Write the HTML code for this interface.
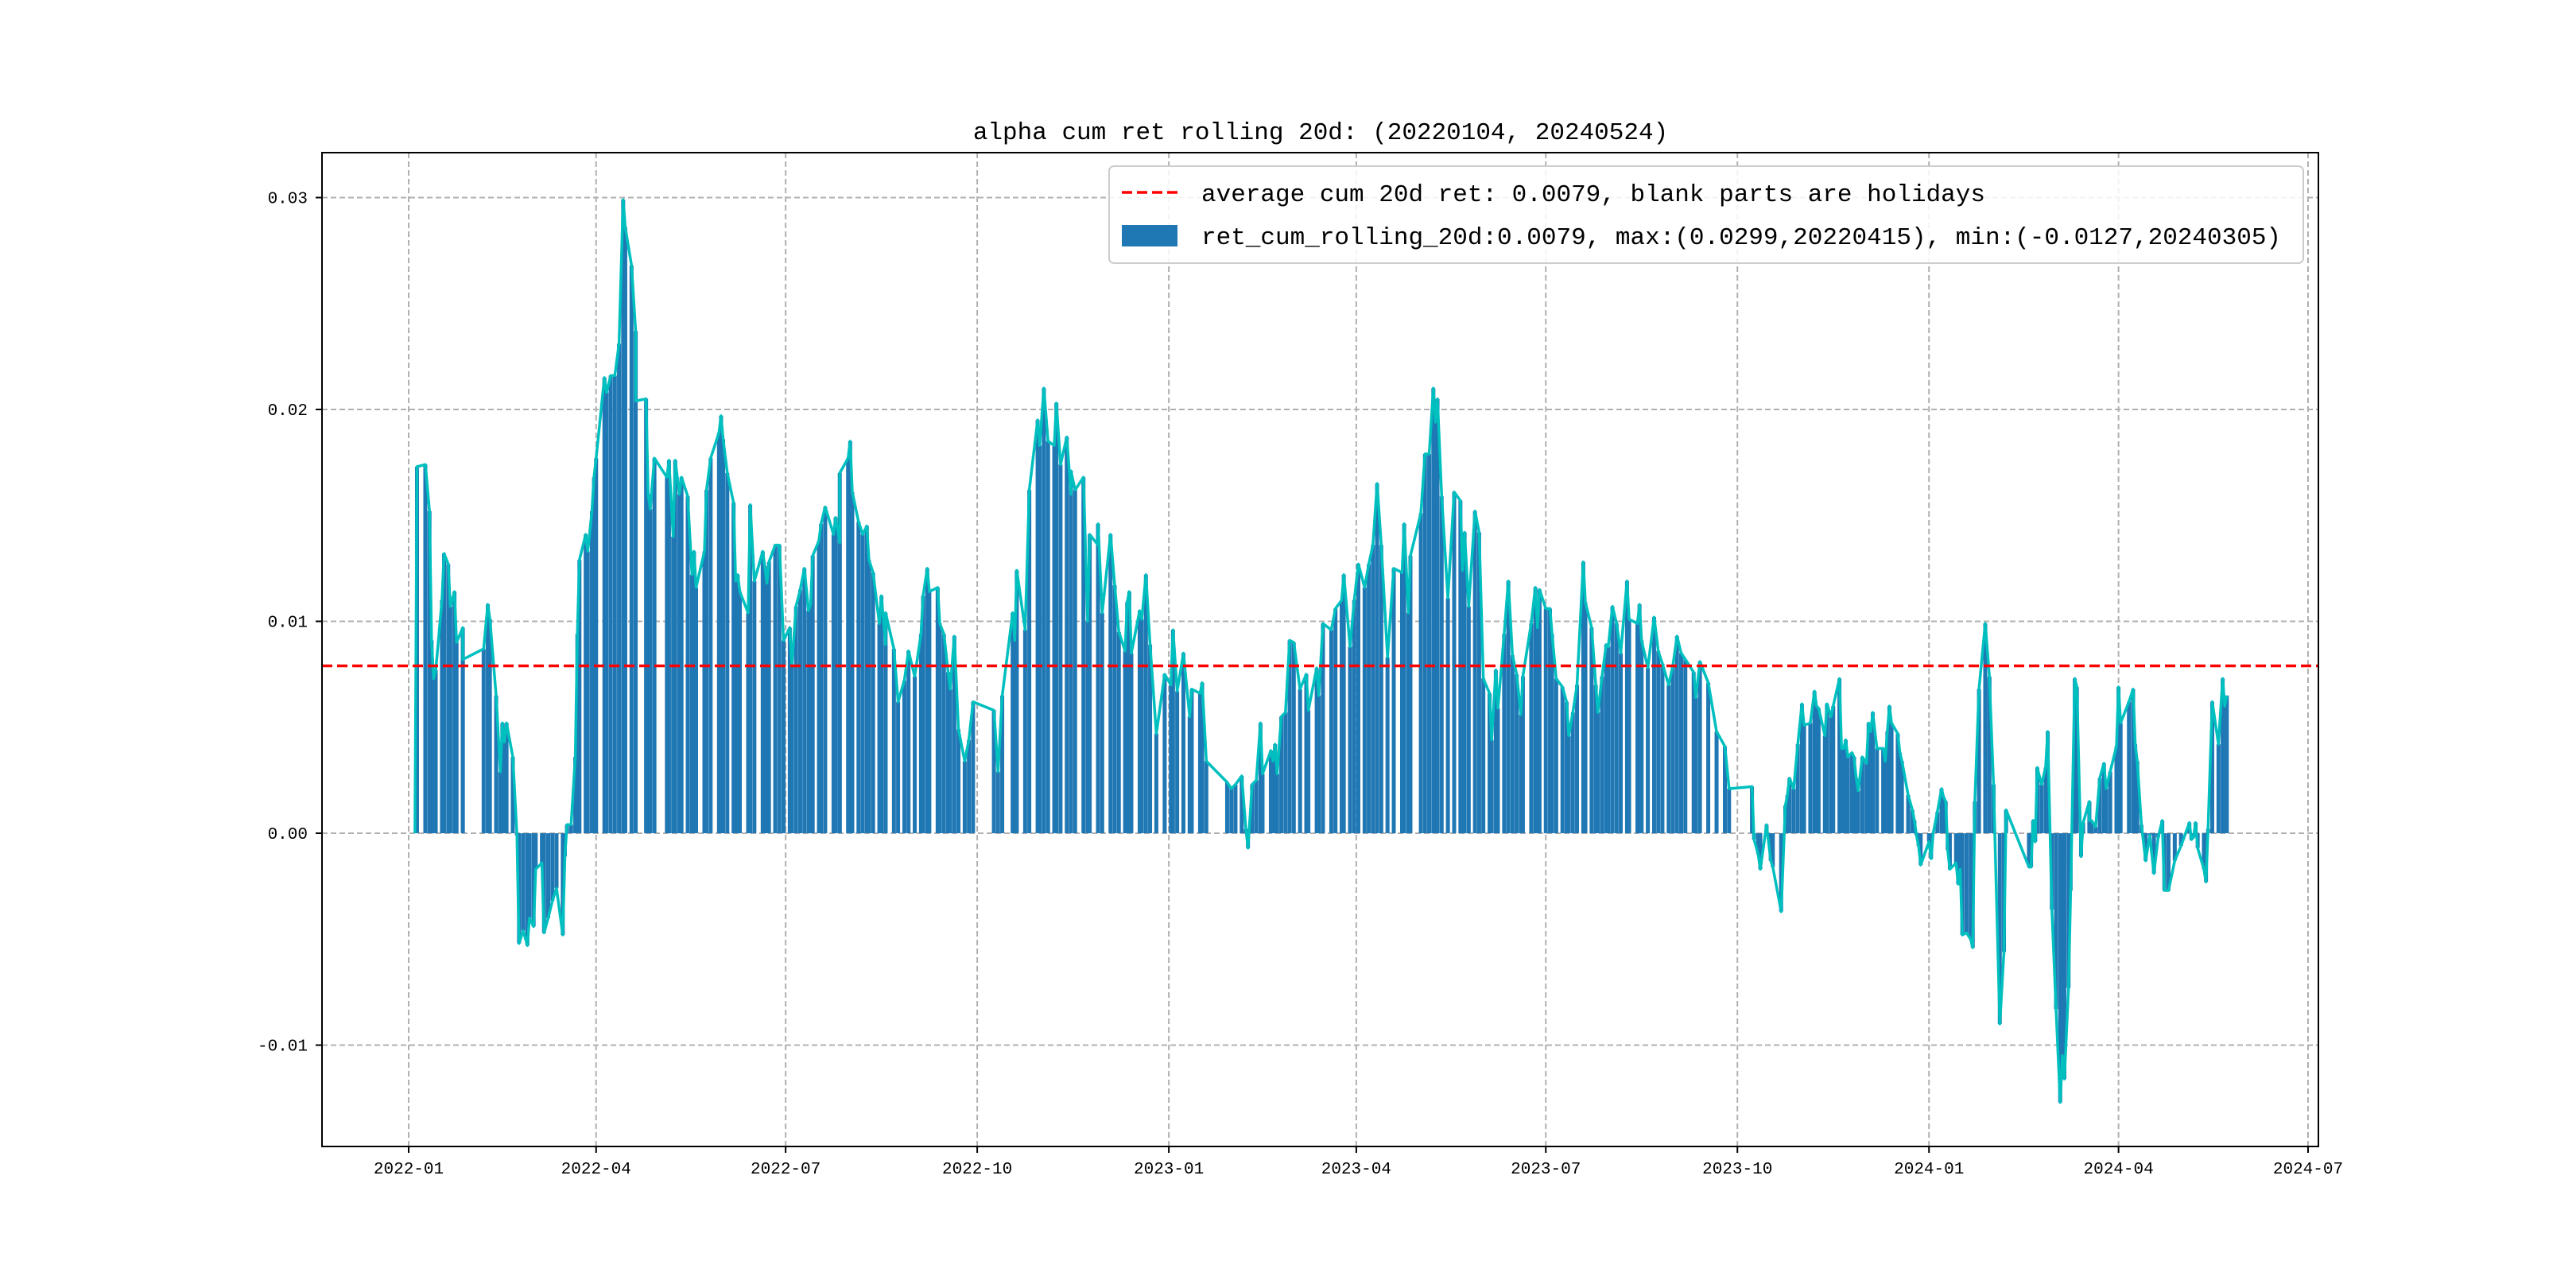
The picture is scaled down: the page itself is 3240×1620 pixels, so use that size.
<!DOCTYPE html>
<html><head><meta charset="utf-8">
<style>
html,body{margin:0;padding:0;background:#fff;}
svg{display:block;}
text{font-family:"Liberation Mono","DejaVu Sans Mono",monospace;fill:#000;}
</style></head>
<body>
<svg id="chart" width="3240" height="1620" viewBox="0 0 3240 1620" xmlns="http://www.w3.org/2000/svg">
<rect x="0" y="0" width="3240" height="1620" fill="#fff"/>
<g id="grid"></g>
<g id="bars"></g>
<g id="line"></g>
<g id="avg"></g>
<rect x="405" y="192" width="2511" height="1250" fill="none" stroke="#000" stroke-width="2"/>
<g id="axes"></g>
<text x="1661" y="175" font-size="31" text-anchor="middle">alpha cum ret rolling 20d: (20220104, 20240524)</text>
<g>
<rect x="1395" y="209" width="1502" height="122" rx="6" fill="#fff" fill-opacity="0.85" stroke="#ccc" stroke-width="2"/>
<line x1="1411" y1="242" x2="1481" y2="242" stroke="#ff0000" stroke-width="3.5" stroke-dasharray="13,6"/>
<text x="1511" y="253" font-size="31">average cum 20d ret: 0.0079, blank parts are holidays</text>
<rect x="1411" y="283" width="70" height="27" fill="#1f77b4"/>
<text x="1511" y="307" font-size="31">ret_cum_rolling_20d:0.0079, max:(0.0299,20220415), min:(-0.0127,20240305)</text>
</g>
</svg>
<script>
// day offsets from 2022-01-01
const days = [3,4,8,10,11,12,13,16,17,19,20,22,23,26,26,36,38,39,42,44,45,46,47,50,52,53,55,57,58,60,61,64,65,67,69,71,74,75,76,78,80,81,82,85,86,88,89,90,94,95,97,99,101,103,104,107,109,109,114,115,116,118,124,125,127,128,130,131,134,136,137,138,142,143,145,149,150,151,153,156,157,158,159,163,164,166,170,171,172,173,176,178,180,183,184,186,188,190,192,193,194,197,198,200,204,205,207,207,211,212,213,216,218,220,221,223,226,227,229,229,233,235,238,240,243,246,247,249,250,254,255,257,259,260,262,264,267,269,271,
281,283,285,290,291,292,296,298,302,303,305,307,310,311,313,316,318,318,320,324,326,327,331,331,333,337,339,341,344,345,346,347,351,352,354,356,359,363,366,367,369,372,375,376,380,381,383,393,395,397,400,402,403,405,407,409,410,414,415,416,417,419,421,423,425,428,431,432,436,437,439,443,445,448,449,452,454,456,459,461,463,465,467,470,473,477,478,480,481,486,488,490,492,493,494,496,499,502,505,506,507,509,512,514,516,519,520,522,523,526,528,530,532,534,535,539,541,542,543,546,548,549,551,554,556,557,559,561,564,565,568,570,571,573,575,576,578,580,582,585,586,590,591,592,595,598,600,602,605,607,609,611,613,617,618,620,624,
628,632,634,645,646,648,649,652,654,655,659,661,662,663,665,667,669,670,673,675,676,677,680,681,683,684,687,688,689,690,691,693,694,695,696,698,700,701,702,703,705,708,709,710,711,712,715,716,717,720,722,723,724,725,726,730,731,732,734,736,737,738,739,740,743,744,745,746,748,750,751,752,754,757,759,759,761,764,766,767,778,779,780,781,782,784,786,787,789,791,793,794,795,797,798,800,801,803,804,807,807,808,810,812,814,815,817,820,821,822,826,828,829,830,832,834,836,838,840,842,843,845,848,851,855,856,857,858,859,862,863,864,866,869,871,872,873];
const vals = [0,0.0173,0.0174,0.0152,0.0091,0.0073,0.0077,0.0110,0.0132,0.0127,0.0107,0.0114,0.0090,0.0097,0.0082,0.0087,0.0108,0.0101,0.0065,0.0029,0.0052,0.0043,0.0052,0.0036,-0.0001,-0.0052,-0.0046,-0.0053,-0.0040,-0.0044,-0.0017,-0.0014,-0.0047,-0.0040,-0.0032,-0.0026,-0.0048,-0.0011,0.0004,0.0004,0.0036,0.0094,0.0129,0.0141,0.0133,0.0152,0.0168,0.0177,0.0215,0.0208,0.0216,0.0216,0.0231,0.0299,0.0286,0.0268,0.0237,0.0204,0.0205,0.0160,0.0153,0.0177,0.0168,0.0176,0.0140,0.0176,0.0160,0.0168,0.0159,0.0122,0.0133,0.0116,0.0133,0.0162,0.0177,0.0189,0.0197,0.0186,0.0170,0.0156,0.0119,0.0122,0.0114,0.0104,0.0155,0.0119,0.0133,0.0126,0.0118,0.0128,0.0136,0.0136,0.0091,0.0097,0.0079,0.0107,0.0115,0.0125,0.0105,0.0108,0.0131,0.0138,0.0146,0.0154,0.0141,0.0149,0.0137,0.0170,0.0177,0.0185,0.0161,0.0147,0.0141,0.0145,0.0129,0.0123,0.0099,0.0112,0.0089,0.0104,0.0087,0.0062,0.0072,0.0086,0.0074,0.0094,0.0112,0.0125,0.0114,0.0116,0.0099,0.0094,0.0076,0.0068,0.0093,0.0049,0.0034,0.0044,0.0062,
0.0058,0.0029,0.0065,0.0104,0.0091,0.0124,0.0096,0.0162,0.0195,0.0183,0.0210,0.0185,0.0183,0.0203,0.0174,0.0187,0.0160,0.0171,0.0162,0.0168,0.0100,0.0141,0.0136,0.0146,0.0104,0.0141,0.0117,0.0095,0.0086,0.0109,0.0114,0.0085,0.0105,0.0101,0.0122,0.0089,0.0047,0.0075,0.0070,0.0096,0.0067,0.0085,0.0055,0.0068,0.0066,0.0071,0.0034,0.0024,0.0021,0.0023,0.0027,0.0002,-0.0007,0.0023,0.0025,0.0052,0.0028,0.0039,0.0034,0.0042,0.0028,0.0055,0.0057,0.0091,0.0090,0.0068,0.0075,0.0058,0.0078,0.0065,0.0099,0.0096,0.0106,0.0110,0.0122,0.0088,0.0110,0.0127,0.0116,0.0127,0.0136,0.0165,0.0136,0.0083,0.0125,0.0123,0.0146,0.0104,0.0131,0.0151,0.0179,0.0179,0.0210,0.0194,0.0205,0.0159,0.0111,0.0161,0.0157,0.0124,0.0142,0.0107,0.0152,0.0142,0.0073,0.0066,0.0044,0.0077,0.0059,0.0094,0.0119,0.0084,0.0075,0.0056,0.0074,0.0099,0.0116,0.0097,0.0115,0.0106,0.0106,0.0094,0.0073,0.0069,0.0062,0.0046,0.0057,0.0070,0.0128,0.0109,0.0097,0.0070,0.0057,0.0074,0.0089,0.0088,0.0107,0.0099,0.0085,0.0119,0.0101,0.0099,0.0108,0.0091,0.0078,0.0102,0.0086,0.0080,0.0070,0.0079,0.0093,0.0085,0.0082,0.0076,0.0064,0.0081,0.0071,
0.0048,0.0041,0.0021,0.0022,-0.0003,-0.0010,-0.0017,0.0004,-0.0013,-0.0016,-0.0037,0.0013,0.0018,0.0026,0.0021,0.0042,0.0061,0.0051,0.0052,0.0067,0.0060,0.0059,0.0046,0.0061,0.0055,0.0060,0.0073,0.0040,0.0040,0.0044,0.0036,0.0038,0.0036,0.0026,0.0020,0.0036,0.0033,0.0052,0.0048,0.0057,0.0040,0.0040,0.0034,0.0048,0.0060,0.0052,0.0047,0.0038,0.0034,0.0018,0.0011,0.0006,-0.0001,-0.0006,-0.0015,-0.0004,-0.0012,0.0000,0.0010,0.0021,0.0017,0.0015,-0.0008,-0.0017,-0.0014,-0.0024,-0.0017,-0.0048,-0.0047,-0.0050,-0.0054,0.0015,0.0068,0.0099,0.0074,0.0073,0.0023,-0.0090,-0.0056,0.0011,-0.0016,-0.0016,0.0006,-0.0004,0.0031,0.0023,0.0031,0.0048,-0.0036,-0.0083,-0.0127,-0.0105,-0.0116,-0.0073,-0.0027,0.0073,0.0069,-0.0011,0.0005,0.0015,0.0006,0.0006,0.0003,0.0026,0.0033,0.0021,0.0029,0.0041,0.0069,0.0052,0.0062,0.0068,0.0042,0.0034,0.0004,-0.0013,-0.0001,-0.0019,-0.0002,0.0006,-0.0027,-0.0027,-0.0013,-0.0006,0.0005,-0.0003,-0.0002,0.0005,-0.0007,-0.0017,-0.0023,0.0002,0.0062,0.0042,0.0073,0.0060,0.0065];
const avgValue = 0.0079;
const yTicks = [-0.01, 0.00, 0.01, 0.02, 0.03];
const yTickLabels = ["-0.01", "0.00", "0.01", "0.02", "0.03"];
const xTickDays = [0, 90, 181, 273, 365, 455, 546, 638, 730, 821, 912];
const xTickLabels = ["2022-01","2022-04","2022-07","2022-10","2023-01","2023-04","2023-07","2023-10","2024-01","2024-04","2024-07"];

const NS = "http://www.w3.org/2000/svg";
const X = d => 514 + d * 2.6195;
const Y = v => 1048 - v * 26650;
const L = 405, R = 2916, T = 192, B = 1442;
function mk(tag, attrs, parent) {
  const e = document.createElementNS(NS, tag);
  for (const k in attrs) e.setAttribute(k, attrs[k]);
  parent.appendChild(e);
  return e;
}
const grid = document.getElementById('grid');
const axes = document.getElementById('axes');
yTicks.forEach((t, i) => {
  const y = Y(t);
  const g = mk('line', {x1: L, x2: R, y1: y, y2: y, stroke: '#b0b0b0', 'stroke-width': 2, 'stroke-dasharray': '7,4'}, grid);
  
  
  const tk = mk('line', {x1: L - 8, x2: L, y1: y, y2: y, stroke: '#000', 'stroke-width': 2}, axes);
  
  
  const tx = mk('text', {x: L - 18, y: y + 7, 'font-size': 21, 'text-anchor': 'end'}, axes);
  tx.textContent = yTickLabels[i];
  
  
});
xTickDays.forEach((d, i) => {
  const x = X(d);
  const g = mk('line', {x1: x, x2: x, y1: T, y2: B, stroke: '#b0b0b0', 'stroke-width': 2, 'stroke-dasharray': '7,4'}, grid);
  
  
  const tk = mk('line', {x1: x, x2: x, y1: B, y2: B + 8, stroke: '#000', 'stroke-width': 2}, axes);
  
  
  const tx = mk('text', {x: x, y: B + 34, 'font-size': 21, 'text-anchor': 'middle'}, axes);
  tx.textContent = xTickLabels[i];
  
  
});
const bars = document.getElementById('bars');
days.forEach((d, i) => {
  const v = vals[i];
  const y0 = Y(0), y1 = Y(v);
  const b = mk('rect', {x: X(d) - 2.5, y: Math.min(y0, y1), width: 5, height: Math.abs(y1 - y0), fill: '#1f77b4'}, bars);
  
  
});
const pts = days.map((d, i) => X(d).toFixed(1) + ',' + Y(vals[i]).toFixed(1)).join(' ');
const pl = mk('polyline', {points: pts, fill: 'none', stroke: '#00bfbf', 'stroke-width': 3.5, 'stroke-linejoin': 'round'}, document.getElementById('line'));


const av = mk('line', {x1: L, x2: R, y1: Y(avgValue), y2: Y(avgValue), stroke: '#ff0000', 'stroke-width': 3.5, 'stroke-dasharray': '13,6'}, document.getElementById('avg'));


</script>
</body></html>
